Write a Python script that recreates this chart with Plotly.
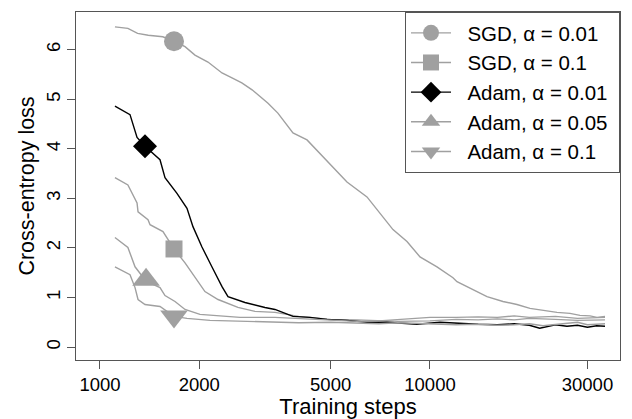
import plotly.graph_objects as go

# ---- data ----
sgd001_x = [1110, 1215, 1300, 1400, 1550, 1676, 1810, 1940, 2124, 2343, 2512, 2690, 2890, 3230, 3460, 3710,
            3844, 4240, 4741, 5082, 5603, 6442, 7055, 7724, 8517, 9326, 10500, 11741, 12073, 13503, 14883,
            16642, 18346, 20091, 21996, 24257, 26561, 28480, 30530, 32076, 33913]
sgd001_y = [6.46, 6.43, 6.33, 6.29, 6.26, 6.17, 6.06, 5.89, 5.75, 5.53, 5.43, 5.33, 5.19, 4.92, 4.72, 4.44,
            4.32, 4.18, 3.84, 3.64, 3.33, 3.03, 2.71, 2.37, 2.13, 1.82, 1.62, 1.40, 1.32, 1.16, 1.02,
            0.92, 0.86, 0.78, 0.74, 0.70, 0.68, 0.64, 0.63, 0.60, 0.62]

sgd01_x = [1110, 1215, 1295, 1304, 1398, 1418, 1552, 1676, 1810, 1941, 2080, 2279, 2618, 2949, 3391,
           4000, 5000, 6000, 7000, 8000, 10000, 12000, 14000, 16000, 18000, 20000, 24000, 28000, 33913]
sgd01_y = [3.42, 3.27, 2.91, 2.73, 2.57, 2.47, 2.33, 1.98, 1.70, 1.42, 1.12, 0.96, 0.80, 0.72, 0.70,
           0.62, 0.56, 0.55, 0.54, 0.52, 0.53, 0.56, 0.55, 0.57, 0.55, 0.58, 0.56, 0.54, 0.55]

adam001_x = [1110, 1233, 1295, 1369, 1520, 1574, 1711, 1835, 1913, 2037, 2183, 2343, 2443, 2750, 3162,
             3391, 3513, 3844, 4329, 4875, 5603, 6442, 7408, 8517, 9133, 10722, 12000, 14000, 16000,
             18000, 20000, 21500, 24000, 26000, 28000, 30000, 32000, 33913]
adam001_y = [4.86, 4.69, 4.23, 4.05, 3.78, 3.42, 3.10, 2.80, 2.43, 2.02, 1.62, 1.22, 1.02, 0.90, 0.80,
             0.76, 0.72, 0.62, 0.60, 0.56, 0.54, 0.50, 0.50, 0.48, 0.46, 0.50, 0.48, 0.46, 0.45,
             0.47, 0.44, 0.38, 0.45, 0.42, 0.44, 0.40, 0.43, 0.42]

adam005_x = [1110, 1215, 1277, 1379, 1520, 1574, 1688, 1810, 2009, 2657, 3391, 4000, 5000, 6000, 7000,
             8000, 9000, 10000, 12000, 14000, 16000, 18000, 20000, 24000, 28000, 33913]
adam005_y = [2.21, 2.01, 1.62, 1.33, 1.20, 1.04, 0.92, 0.76, 0.66, 0.60, 0.60, 0.58, 0.55, 0.52, 0.53,
             0.56, 0.58, 0.60, 0.60, 0.61, 0.60, 0.63, 0.60, 0.62, 0.58, 0.60]

adam01_x = [1110, 1233, 1277, 1304, 1369, 1520, 1676, 1835, 2154, 2657, 3391, 4000, 5000, 6000, 7000,
            8000, 10000, 12000, 14000, 16000, 18000, 20000, 22000, 24000, 28000, 30000, 33913]
adam01_y = [1.62, 1.46, 1.20, 0.96, 0.86, 0.82, 0.62, 0.58, 0.54, 0.52, 0.50, 0.49, 0.50, 0.48, 0.47,
            0.49, 0.47, 0.45, 0.46, 0.44, 0.45, 0.47, 0.43, 0.46, 0.50, 0.45, 0.47]

# marker positions (one marker per curve)
marker_x = [1676, 1676, 1369, 1379, 1676]
marker_y = [6.17, 1.98, 4.05, 1.36, 0.62]

names = ["SGD, α = 0.01", "SGD, α = 0.1", "Adam, α = 0.01", "Adam, α = 0.05", "Adam, α = 0.1"]
xs = [sgd001_x, sgd01_x, adam001_x, adam005_x, adam01_x]
ys = [sgd001_y, sgd01_y, adam001_y, adam005_y, adam01_y]

x_tickvals = [1000, 2000, 5000, 10000, 30000]
x_ticktext = ["1000", "2000", "5000", "10000", "30000"]
y_tickvals = [0, 1, 2, 3, 4, 5, 6]

GRAY = "#a0a0a0"
colors = [GRAY, GRAY, "#000000", GRAY, GRAY]
symbols = ["circle", "square", "diamond", "triangle-up", "triangle-down"]
msizes = [20, 17, 18.5, 24, 24]

fig = go.Figure()
for i in range(5):
    fig.add_trace(go.Scatter(x=xs[i], y=ys[i], mode="lines",
                             line=dict(color=colors[i], width=1.4),
                             showlegend=False, hoverinfo="skip"))
for i in range(5):
    fig.add_trace(go.Scatter(x=[marker_x[i]], y=[marker_y[i]], mode="lines+markers",
                             name="\u00a0\u00a0" + names[i] + "\u00a0",
                             line=dict(color=colors[i], width=1.4),
                             marker=dict(symbol=symbols[i], size=msizes[i], color=colors[i],
                                         line=dict(width=0))))

FONT = "Liberation Sans, Arial, Helvetica, sans-serif"
AX = "#555555"
fig.update_layout(
    width=632, height=419,
    margin=dict(l=76, r=12, t=12, b=59),
    paper_bgcolor="white", plot_bgcolor="white",
    font=dict(family=FONT, size=18, color="#000000"),
    showlegend=True,
    legend=dict(x=1, y=1, xanchor="right", yanchor="top",
                bordercolor=AX, borderwidth=1, bgcolor="white",
                font=dict(family=FONT, size=20.5), tracegroupgap=0,
                itemwidth=40),
    xaxis=dict(type="log", range=[2.9273, 4.5758], automargin=False,
               tickvals=x_tickvals, ticktext=x_ticktext,
               showgrid=False, zeroline=False,
               showline=True, mirror=True, linecolor=AX, linewidth=1,
               ticks="outside", ticklen=8, tickcolor=AX,
               tickfont=dict(size=18.5),
               title=dict(text="Training steps", font=dict(size=22), standoff=0)),
    yaxis=dict(range=[-0.26, 6.76], tickvals=y_tickvals, automargin=False,
               showgrid=False, zeroline=False,
               showline=True, mirror=True, linecolor=AX, linewidth=1,
               ticks="outside", ticklen=8, tickcolor=AX,
               tickangle=-90, tickfont=dict(size=18.5),
               title=dict(text="Cross-entropy loss", font=dict(size=21.5), standoff=2)),
)

fig.write_html("out.html", config={"displayModeBar": False},
               post_script="document.body.style.margin='0px';document.body.style.padding='0px';")
